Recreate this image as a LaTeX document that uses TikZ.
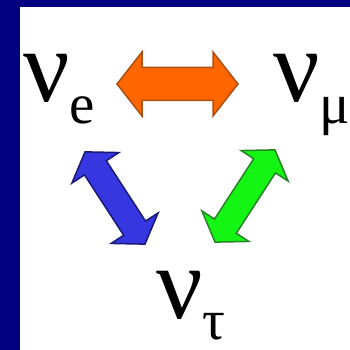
\documentclass[tikz,border=0pt]{standalone}
\usepackage{fontspec}
\setmainfont{Liberation Serif}
\usepackage{tikz}
\usetikzlibrary{calc}

\definecolor{frame}{RGB}{0,0,128}
\definecolor{orfill}{RGB}{255,102,0}
\definecolor{orline}{RGB}{170,80,20}
\definecolor{blfill}{RGB}{55,55,225}
\definecolor{blline}{RGB}{25,25,120}
\definecolor{grfill}{RGB}{20,245,20}
\definecolor{grline}{RGB}{40,130,40}

\newcommand{\bigfont}{\fontsize{103}{103}\selectfont}
\newcommand{\subfont}{\fontsize{57}{57}\selectfont}

\tikzset{
  flavour/.style={inner sep=0pt, anchor=base west, font=\bigfont},
  osc line/.style={line width=1.5pt, line join=miter},
  pics/osc/.style n args={4}{code={
    \filldraw[pic actions] (-#1,0) -- (-#1+#2,#3) -- (-#1+#2,#4) -- (#1-#2,#4)
      -- (#1-#2,#3) -- (#1,0) -- (#1-#2,-#3) -- (#1-#2,-#4) -- (-#1+#2,-#4)
      -- (-#1+#2,-#3) -- cycle;}}
}

\begin{document}
\begin{tikzpicture}[x=1pt, y=1pt]
  \useasboundingbox (0,0) rectangle (350,350);
  \fill[frame] (0,0) rectangle (350,350);
  \fill[white] (20,0) rectangle (350,343);
  % the three flavours
  \node[flavour] (nue) at (23,248) {ν\raisebox{-22pt}{\subfont e}};
  \node[flavour] (numu) at (273,248) {ν\raisebox{-22pt}{\subfont μ}};
  \node[flavour] (nutau) at (156,31) {ν\raisebox{-21pt}{\subfont τ}};
  % oscillation arrows
  \pic[fill=orfill, draw=orline, osc line] at (177.5,266) {osc={60.5}{25}{32}{16.5}};
  \pic[fill=blfill, draw=blline, osc line, rotate=-57] at (115,152) {osc={55}{19}{28}{13}};
  \pic[fill=grfill, draw=grline, osc line, rotate=57] at (245,154) {osc={55}{19}{28}{13}};
\end{tikzpicture}
\end{document}
